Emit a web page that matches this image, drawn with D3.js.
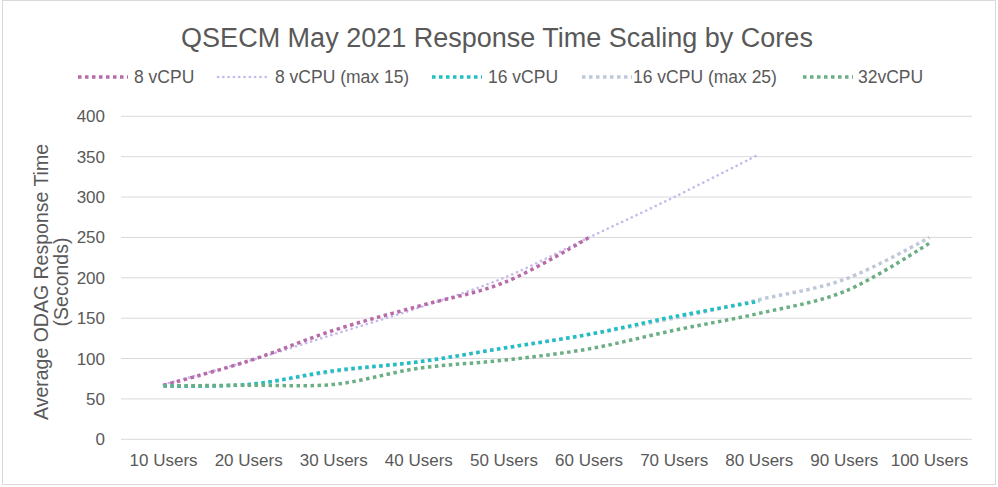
<!DOCTYPE html>
<html><head><meta charset="utf-8">
<script src="https://cdn.jsdelivr.net/npm/d3@7"></script>
<style>body{margin:0;background:#fff;}svg{display:block;font-family:"Liberation Sans",Arial,sans-serif;}</style>
</head><body>
<svg id="c" width="998" height="487"></svg>
<script>
const categories = ["10 Users","20 Users","30 Users","40 Users","50 Users","60 Users","70 Users","80 Users","90 Users","100 Users"];
const seriesNames = ["8 vCPU","8 vCPU (max 15)","16 vCPU","16 vCPU (max 25)","32vCPU"];
const v8 = [67,97,135,165,194,250,null,null,null,null];
const v8max15 = [68,97,130,163,200,250,300,353,null,null];
const v16 = [66,68,85,96,113,130,152,171,null,null];
const v16max25 = [66,68,84,96,113,130,150,173,198,250];
const v32 = [66,67,68,88,98,112,135,156,183,243];
const yTicks = [0,50,100,150,200,250,300,350,400];
const colors = ["#B86BAA","#C7B9EA","#1FBFC4","#BFC8D9","#6BAE84"];
const values = [v8,v8max15,v16,v16max25,v32];

(function(){
const svg = d3.select("#c");
svg.append("rect").attr("x",2.5).attr("y",0.5).attr("width",993).attr("height",484)
  .attr("fill","#fff").attr("stroke","#d9d9d9");

const mL=121, mR=972, mT=116.3, mB=439.3;
const x = d3.scaleBand().domain(categories).range([mL,mR]);
const y = d3.scaleLinear().domain([0,400]).range([mB,mT]);

svg.append("g").selectAll("line").data(yTicks).join("line")
  .attr("x1",mL).attr("x2",mR).attr("y1",d=>y(d)).attr("y2",d=>y(d))
  .attr("stroke","#d9d9d9").attr("stroke-width",1);

const ya = svg.append("g").attr("transform",`translate(${mL},0)`)
  .call(d3.axisLeft(y).tickValues(yTicks).tickSize(0).tickPadding(16));
ya.select(".domain").remove();
ya.selectAll("text").attr("font-size",17).attr("fill","#595959").attr("font-family","Liberation Sans, Arial, sans-serif");

const xa = svg.append("g").attr("transform",`translate(0,${mB})`)
  .call(d3.axisBottom(x).tickSize(0).tickPadding(15));
xa.select(".domain").remove();
xa.selectAll("text").attr("font-size",17).attr("fill","#595959").attr("font-family","Liberation Sans, Arial, sans-serif");

const line = d3.line().defined(d=>d.v!=null)
  .x(d=>x(d.c)+x.bandwidth()/2).y(d=>y(d.v)).curve(d3.curveCatmullRom.alpha(0.5));
const styles = [
  {w:3.5,dash:"3.5,3.5",cap:"butt"},
  {w:2.6,dash:"0.1,5.2",cap:"round"},
  {w:3.5,dash:"3.5,3.5",cap:"butt"},
  {w:3.5,dash:"3.5,3.5",cap:"butt"},
  {w:3.5,dash:"3.5,3.5",cap:"butt"}
];
const order=[1,0,3,2,4];
order.forEach(i=>{
  const data = categories.map((c,j)=>({c, v: values[i][j]}));
  svg.append("path").datum(data).attr("d",line).attr("fill","none")
    .attr("stroke",colors[i]).attr("stroke-width",styles[i].w)
    .attr("stroke-dasharray",styles[i].dash).attr("stroke-linecap",styles[i].cap);
});

svg.append("text").attr("x",497).attr("y",47).attr("text-anchor","middle")
  .attr("font-size",27).attr("fill","#595959").text("QSECM May 2021 Response Time Scaling by Cores");

const legX = [78,218,432,582,803];
const legT = [56,57,56,51,55];
seriesNames.forEach((n,i)=>{
  const g = svg.append("g").attr("transform",`translate(${legX[i]},77)`);
  g.append("line").attr("x1",0).attr("x2",50).attr("y1",0).attr("y2",0)
    .attr("stroke",colors[i]).attr("stroke-width",styles[i].w)
    .attr("stroke-dasharray",styles[i].dash).attr("stroke-linecap",styles[i].cap);
  g.append("text").attr("x",legT[i]).attr("y",6).attr("font-size",17.5).attr("fill","#595959").text(n);
});

const yt = svg.append("text").attr("transform","translate(48,282) rotate(-90)")
  .attr("text-anchor","middle").attr("font-size",19.5).attr("fill","#595959");
yt.append("tspan").attr("x",0).attr("dy",0).text("Average ODAG Response Time");
yt.append("tspan").attr("x",0).attr("dy",20).text("(Seconds)");
})();
</script>
</body></html>
